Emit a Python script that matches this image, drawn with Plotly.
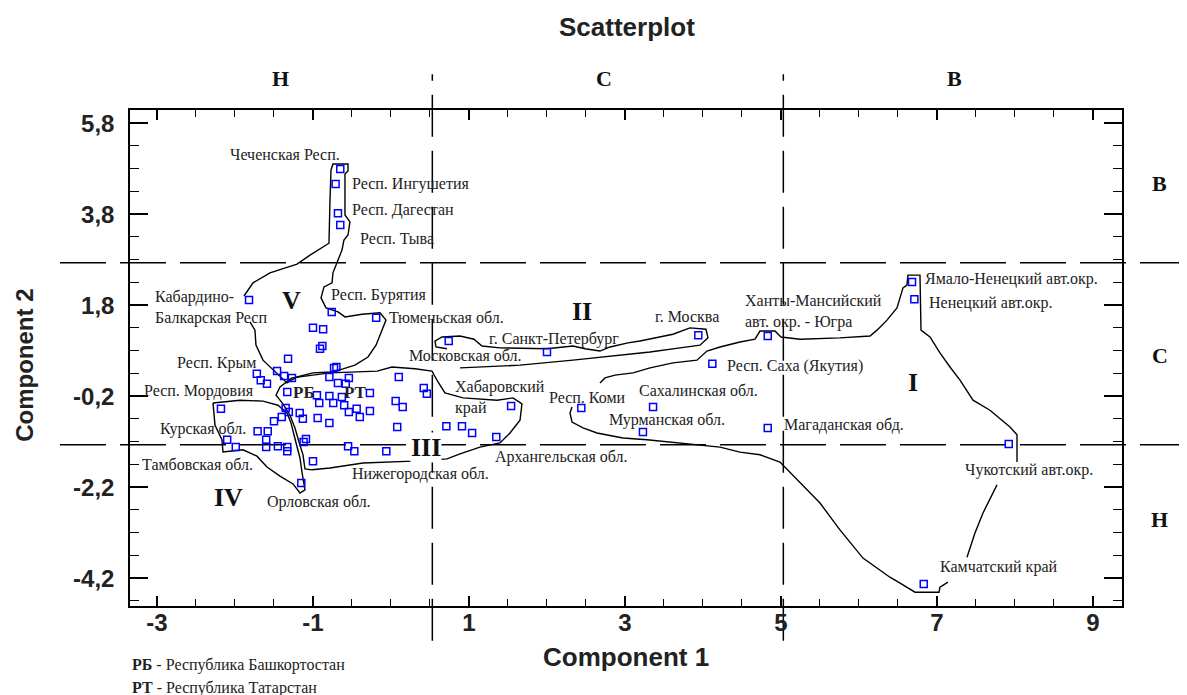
import plotly.graph_objects as go

# ---------------- data ----------------
component1 = [-0.65, -0.71, -0.68, -0.65, -1.82, -0.76, -0.19, -1.00, -0.87, -0.88,
              -0.91, -1.32, -0.70, -0.73, -1.46, -1.37, -1.27, -1.72, -1.67, -1.59,
              -0.79, -0.54, -0.68, -0.58, 0.10, 0.42, 0.46, -1.33, -0.95, -0.79,
              -0.63, -0.27, -0.92, -0.74, -0.60, 0.06, 0.15, -1.35, -1.31, -1.17,
              -1.13, -1.40, -1.50, -0.94, -0.79, -0.54, -0.44, -0.40, -0.27, 0.08,
              -2.18, -1.71, -1.58, -1.60, -2.10, -1.09, -1.12, -1.99, -1.60, -1.45,
              -1.33, -1.33, -0.55, -0.47, -0.06, -1.00, -1.15, 0.74, 2.00, 3.94,
              4.83, 4.12, 0.71, 0.91, 1.04, 1.35, 1.54, 2.44, 3.36, 3.23,
              4.83, 6.68, 6.71, 7.92, 6.83]
component2 = [4.79, 4.46, 3.82, 3.56, 1.91, 1.65, 1.52, 1.30, 1.27, 0.90,
              0.84, 0.62, 0.44, 0.42, 0.35, 0.24, 0.20, 0.29, 0.15, 0.07,
              0.22, 0.20, 0.09, 0.07, 0.22, -0.02, -0.15, -0.11, -0.18, -0.20,
              -0.22, -0.13, -0.35, -0.35, -0.40, -0.31, -0.44, -0.46, -0.55, -0.57,
              -0.70, -0.66, -0.75, -0.68, -0.79, -0.55, -0.48, -0.66, -0.53, -0.88,
              -0.48, -0.97, -0.97, -1.16, -1.16, -1.14, -1.21, -1.32, -1.32, -1.30,
              -1.32, -1.41, -1.30, -1.41, -1.41, -1.63, -2.11, 1.01, 0.77, 1.14,
              1.12, 0.51, -0.86, -0.86, -1.01, -1.10, -0.42, -0.46, -0.44, -0.99,
              -0.90, 2.31, 1.93, -1.25, -4.33]

# cluster outlines (hand drawn in the reference), in component units
cluster_V_x = [-1.885, -1.769, -1.551, -1.205, -1.038, -0.795, -0.782, -0.769, -0.744, -0.551,
               -0.551, -0.590, -0.590, -0.526, -0.551, -0.603, -0.628, -0.692, -0.744, -0.756,
               -0.859, -0.897, -0.833, -0.679, -0.590, -0.372, -0.141, -0.064, -0.128, -0.192,
               -0.295, -0.462, -0.615, -0.782, -1.000, -1.205, -1.333, -1.513, -1.641, -1.731,
               -1.744, -1.808]
cluster_V_y = [2.00, 2.29, 2.51, 2.70, 2.90, 3.16, 4.11, 4.77, 4.90, 4.90,
               4.75, 4.68, 3.78, 3.63, 3.34, 3.23, 3.01, 2.75, 2.51, 2.29,
               2.20, 1.96, 1.74, 1.65, 1.54, 1.60, 1.63, 1.47, 1.19, 0.92,
               0.66, 0.48, 0.40, 0.33, 0.31, 0.22, 0.09, 0.37, 0.59, 0.92,
               1.25, 1.43]

cluster_II_x = [0.885, 1.654, 2.333, 2.808, 3.321, 3.705, 3.962, 4.064, 4.038, 3.833,
                3.615, 3.192, 3.038, 2.808, 2.679, 2.487, 2.333, 2.000, 1.397, 1.167,
                1.064, 0.885, 0.654, 0.564, 0.577, 0.718]
cluster_II_y = [0.42, 0.48, 0.59, 0.68, 0.77, 0.86, 0.92, 1.08, 1.27, 1.30,
                1.16, 1.01, 0.97, 0.88, 0.79, 0.84, 0.90, 0.84, 0.86, 0.90,
                1.05, 1.12, 1.10, 1.01, 0.88, 0.84]

cluster_III_x = [-1.269, -0.782, -0.179, 0.013, 0.308, 0.526, 0.603, 0.692, 0.923, 1.359,
                 1.564, 1.679, 1.654, 1.526, 1.397, 1.141, 0.885, 0.718, 0.282, -0.359,
                 -0.782, -1.013, -1.103, -1.128, -1.179, -1.231, -1.295, -1.385, -1.474, -1.423,
                 -1.269]
cluster_III_y = [0.20, 0.31, 0.35, 0.44, 0.40, 0.35, 0.11, -0.13, -0.24, -0.29,
                 -0.24, -0.37, -0.73, -1.01, -1.23, -1.32, -1.47, -1.58, -1.63, -1.67,
                 -1.78, -1.82, -1.80, -1.49, -1.21, -0.90, -0.62, -0.37, -0.18, 0.00,
                 0.20]

cluster_IV_x = [-2.282, -1.936, -1.641, -1.449, -1.333, -1.282, -1.244, -1.205, -1.167, -1.141,
                -1.103, -1.167, -1.256, -1.423, -1.590, -1.718, -1.897, -2.154, -2.167, -2.256,
                -2.282]
cluster_IV_y = [-0.35, -0.29, -0.31, -0.40, -0.57, -0.79, -1.05, -1.32, -1.56, -1.87,
                -2.26, -2.33, -2.13, -1.96, -1.76, -1.52, -1.38, -1.43, -1.16, -0.84,
                -0.35]

cluster_I_top_x = [2.679, 2.744, 2.872, 3.103, 3.321, 3.615, 3.923, 4.051, 4.218, 4.474,
                   4.667, 4.731, 4.923, 5.000, 5.244, 5.756, 6.141, 6.231, 6.359, 6.487,
                   6.526, 6.564, 6.615, 6.628, 6.782, 6.795, 6.910, 7.038, 7.167, 7.295,
                   7.462, 7.679, 7.936, 8.026, 8.026]
cluster_I_top_y = [0.09, 0.20, 0.26, 0.31, 0.42, 0.53, 0.59, 0.79, 0.88, 0.99,
                   1.05, 1.23, 1.23, 1.10, 1.05, 1.08, 1.12, 1.25, 1.47, 1.74,
                   1.96, 2.18, 2.24, 2.46, 2.46, 1.25, 1.10, 0.75, 0.44, 0.15,
                   -0.29, -0.51, -0.88, -1.05, -1.65]
cluster_I_right_x = [7.769, 7.679, 7.590, 7.487, 7.385]
cluster_I_right_y = [-2.15, -2.48, -2.77, -3.21, -3.74]
cluster_I_bottom_x = [7.141, 7.038, 7.026, 6.718, 6.564, 6.397, 6.051, 5.756, 5.500, 5.244,
                      4.987, 4.731, 4.474, 4.218, 3.923, 3.615, 3.282, 2.974, 2.769, 2.641,
                      2.462, 2.321, 2.295, 2.321]
cluster_I_bottom_y = [-4.29, -4.40, -4.51, -4.51, -4.35, -4.18, -3.76, -3.14, -2.55, -2.11,
                      -1.65, -1.49, -1.43, -1.32, -1.27, -1.21, -1.16, -1.12, -1.05, -1.01,
                      -0.90, -0.77, -0.57, -0.44]

# quadrant split lines (component values)
split_component1 = [0.53, 5.03]
split_component2 = [2.73, -1.27]

x_tick_values = [-3, -1, 1, 3, 5, 7, 9]
x_tick_labels = ["-3", "-1", "1", "3", "5", "7", "9"]
y_tick_values = [5.8, 3.8, 1.8, -0.2, -2.2, -4.2]
y_tick_labels = ["5,8", "3,8", "1,8", "-0,2", "-2,2", "-4,2"]

# ---------------- figure ----------------
XMIN, XMAX = -3.346, 9.372
YMIN, YMAX = -4.813, 6.088


def xp(v):
    return (v - XMIN) / (XMAX - XMIN)


def yp(v):
    return (v - YMIN) / (YMAX - YMIN)


fig = go.Figure()

outline = dict(color="black", width=1.4)
paths = [(cluster_V_x, cluster_V_y), (cluster_II_x, cluster_II_y),
         (cluster_III_x, cluster_III_y), (cluster_IV_x, cluster_IV_y),
         (cluster_I_top_x, cluster_I_top_y), (cluster_I_right_x, cluster_I_right_y),
         (cluster_I_bottom_x, cluster_I_bottom_y)]
for px_, py_ in paths:
    fig.add_trace(go.Scatter(x=px_, y=py_, mode="lines", line=outline,
                             hoverinfo="skip", showlegend=False))

fig.add_trace(go.Scatter(x=component1, y=component2, mode="markers",
                         marker=dict(symbol="square-open", size=7, color="#0000ff",
                                     line=dict(width=1.5, color="#0000ff")),
                         showlegend=False))

shapes = []
for v in split_component2:
    shapes.append(dict(type="line", xref="paper", yref="paper",
                       x0=-0.0706, x1=1.0655, y0=yp(v), y1=yp(v),
                       line=dict(color="black", width=1.5, dash="46px,14px"), layer="below"))
for v in split_component1:
    shapes.append(dict(type="line", xref="paper", yref="paper",
                       x0=xp(v), x1=xp(v), y0=-0.07, y1=1.072,
                       line=dict(color="black", width=1.5, dash="42px,14px"), layer="below"))

serif = "Liberation Serif, Times New Roman, serif"
sans = "Liberation Sans, Arial, sans-serif"
label_font = dict(family=serif, size=16, color="#222222")

labels = [
    ("Чеченская Респ.", -2.09, 5.10),
    ("Респ. Ингушетия", -0.53, 4.46),
    ("Респ. Дагестан", -0.53, 3.89),
    ("Респ. Тыва", -0.42, 3.27),
    ("Кабардино-<br>Балкарская Респ", -3.05, 1.74),
    ("Респ. Бурятия", -0.79, 2.02),
    ("Тюменьская обл.", -0.05, 1.52),
    ("г. Санкт-Петербург", 1.23, 1.05),
    ("Московская обл.", 0.21, 0.70),
    ("г. Москва", 3.36, 1.54),
    ("Ханты-Мансийский<br>авт. окр. - Югра", 4.51, 1.67),
    ("Респ. Саха (Якутия)", 4.28, 0.46),
    ("Ямало-Ненецкий авт.окр.", 6.82, 2.37),
    ("Ненецкий авт.окр.", 6.87, 1.85),
    ("Магаданская обд.", 5.01, -0.84),
    ("Сахалинская обл.", 3.15, -0.07),
    ("Мурманская обл.", 2.77, -0.73),
    ("Респ. Коми", 2.00, -0.22),
    ("Хабаровский<br>край", 0.79, -0.24),
    ("Архангельская обл.", 1.31, -1.54),
    ("Нижегородская обл.", -0.53, -1.91),
    ("Орловская обл.", -1.62, -2.53),
    ("Тамбовская обл.", -3.22, -1.71),
    ("Курская обл.", -2.99, -0.92),
    ("Респ. Мордовия", -3.19, -0.09),
    ("Респ. Крым", -2.77, 0.53),
    ("Чукотский авт.окр.", 7.33, -1.82),
    ("Камчатский край", 7.01, -3.96),
]

ann = []
for text, x, y in labels:
    ann.append(dict(text=text, x=x, y=y, xref="x", yref="y", xanchor="left",
                    yanchor="middle", align="left", showarrow=False, font=label_font))

for text, x, y in [("РБ", -1.12, -0.11), ("РТ", -0.45, -0.13)]:
    ann.append(dict(text="<b>%s</b>" % text, x=x, y=y, xref="x", yref="y",
                    xanchor="center", yanchor="middle",
                    showarrow=False, font=dict(family=serif, size=17, color="#222222")))

for text, x, y in [("I", 6.69, 0.09), ("II", 2.45, 1.67), ("III", 0.45, -1.34),
                   ("IV", -2.08, -2.42), ("V", -1.28, 1.91)]:
    a = dict(text="<b>%s</b>" % text, x=x, y=y, xref="x", yref="y",
             xanchor="center", yanchor="middle", showarrow=False, borderpad=0,
             font=dict(family=serif, size=26, color="#111111"))
    if text == "III":
        a["bgcolor"] = "white"
    ann.append(a)

letter_font = dict(family=serif, size=22, color="#111111")
for text, x in [("Н", -1.42), ("С", 2.73), ("В", 7.23)]:
    ann.append(dict(text="<b>%s</b>" % text, x=x, y=1.0645, xref="x", yref="paper",
                    xanchor="center", yanchor="middle", showarrow=False, font=letter_font))
for text, y in [("В", 4.48), ("С", 0.70), ("Н", -2.92)]:
    ann.append(dict(text="<b>%s</b>" % text, x=1.038, y=y, xref="paper", yref="y",
                    xanchor="center", yanchor="middle", showarrow=False, font=letter_font))

ann.append(dict(text="<b>Scatterplot</b>", x=0.501, y=1.167, xref="paper", yref="paper",
                xanchor="center", yanchor="middle", showarrow=False,
                font=dict(family=sans, size=26, color="#222222")))
ann.append(dict(text="<b>Component 1</b>", x=0.500, y=-0.103,
                xref="paper", yref="paper", xanchor="center", yanchor="middle",
                showarrow=False, font=dict(family=sans, size=26, color="#222222")))
ann.append(dict(text="<b>Component 2</b>", x=-0.106, y=0.486, xref="paper", yref="paper",
                xanchor="center", yanchor="middle", textangle=-90, showarrow=False,
                font=dict(family=sans, size=24, color="#222222")))
ann.append(dict(text="<b>РБ</b> - Республика Башкортостан", x=0.0, y=-0.119,
                xref="paper", yref="paper", xanchor="left", yanchor="middle",
                showarrow=False, font=dict(family=serif, size=16, color="#222222")))
ann.append(dict(text="<b>РТ</b> - Республика Татарстан", x=0.0, y=-0.165,
                xref="paper", yref="paper", xanchor="left", yanchor="middle",
                showarrow=False, font=dict(family=serif, size=16, color="#222222")))

axis_common = dict(showgrid=False, zeroline=False, showline=True, linecolor="black",
                   linewidth=1.5, mirror="ticks", ticks="inside", tickcolor="black",
                   tickwidth=1.5, tickmode="array",
                   tickfont=dict(family=sans, size=24, color="#222222", weight="bold"))

# the page adds an 8 px body margin, so the figure is shrunk by that amount
fig.update_layout(
    width=1179, height=687,
    margin=dict(l=122, r=65, t=102, b=89),
    paper_bgcolor="white", plot_bgcolor="white",
    shapes=shapes, annotations=ann, showlegend=False,
    xaxis=dict(range=[XMIN, XMAX], tickvals=x_tick_values, ticktext=x_tick_labels,
               ticklen=10, ticklabelstandoff=-6,
               minor=dict(tickmode="linear", tick0=-3, dtick=0.5, ticks="inside",
                          ticklen=7, tickwidth=1.2, tickcolor="black", showgrid=False),
               **axis_common),
    yaxis=dict(range=[YMIN, YMAX], tickvals=y_tick_values, ticktext=y_tick_labels,
               ticklen=18, ticklabelstandoff=9,
               minor=dict(tickmode="linear", tick0=-4.2, dtick=0.5, ticks="inside",
                          ticklen=9, tickwidth=1.2, tickcolor="black", showgrid=False),
               **axis_common),
)

fig.write_html("out.html")
